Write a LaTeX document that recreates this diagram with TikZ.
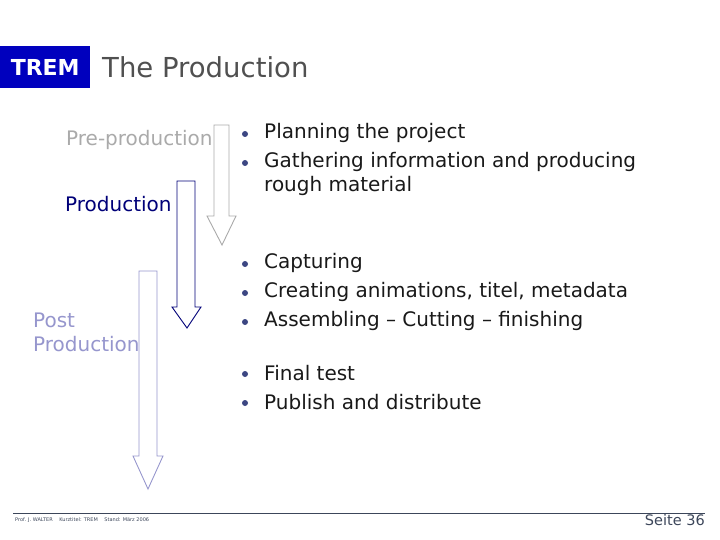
\documentclass[tikz,border=0pt]{standalone}
\usepackage{fontspec}
\setmainfont{DejaVu Sans}
\definecolor{tremblue}{RGB}{0,0,190}
\definecolor{titlegray}{RGB}{80,80,80}
\definecolor{pregray}{RGB}{170,170,170}
\definecolor{prodblue}{RGB}{0,0,120}
\definecolor{postlav}{RGB}{150,150,205}
\definecolor{bulletc}{RGB}{60,70,130}
\definecolor{textc}{RGB}{25,25,25}
\definecolor{footline}{RGB}{60,70,90}
\tikzset{
  lbl/.style={inner sep=0pt, anchor=west, font=\fontsize{20}{24}\selectfont},
  itm/.style={inner sep=0pt, anchor=west, text=textc, font=\fontsize{20}{24}\selectfont},
  dot/.style={circle, fill=bulletc, inner sep=0pt, minimum size=6pt},
  bigarrow/.style={line width=0.9pt, fill=white, line join=miter}
}
\begin{document}
\begin{tikzpicture}[x=1pt,y=-1pt]
\useasboundingbox (0,0) rectangle (720,540);
% header
\node[fill=tremblue, text=white, font=\bfseries\fontsize{22}{26}\selectfont, minimum width=90pt, minimum height=42pt, inner sep=0pt, anchor=north west] (trem) at (0,46) {TREM};
\node[anchor=base west, inner sep=0pt, text=titlegray, font=\fontsize{27.5}{32}\selectfont] (title) at (102,78) {The Production};
% arrows
\draw[bigarrow, draw=pregray] (214,125) -- (229,125) -- (229,216) -- (236,216) -- (222,245) -- (207,216) -- (214,216) -- cycle;
\draw[bigarrow, draw=prodblue] (177,181) -- (195,181) -- (195,307) -- (201,307) -- (187,328) -- (172,307) -- (177,307) -- cycle;
\draw[bigarrow, draw=postlav] (139,271) -- (157,271) -- (157,456) -- (163,456) -- (148,489) -- (133,456) -- (139,456) -- cycle;
% stage labels
\node[lbl, text=pregray] (pre) at (66,140) {Pre-production};
\node[lbl, text=prodblue] (prod) at (65,204) {Production};
\node[lbl, text=postlav, align=left, font=\fontsize{20}{24}\selectfont] (post) at (33,332) {Post\\Production};
% bullets
\foreach \y/\t [count=\i] in {133/Planning the project, 162/Gathering information and producing, 263/Capturing, 292/{Creating animations, titel, metadata}, 321/Assembling – Cutting – finishing, 373/Final test, 402/Publish and distribute}{
  \node[dot] (d\i) at (245,\y+1) {};
  \node[itm] (t\i) at (264,\y) {\t};
}
\node[itm] (t2b) at (264,186) {rough material};
% footer
\coordinate (fl) at (13,513);
\coordinate (fr) at (705,513);
\draw[footline, line width=0.8pt] (fl) -- (fr);
\node[anchor=west, inner sep=0pt, text=footline, font=\fontsize{5}{6}\selectfont] (foot) at (15,520) {Prof. J. WALTER \quad Kurztitel: TREM \quad Stand: März 2006};
\node[anchor=east, inner sep=0pt, text=footline, font=\fontsize{14.5}{17}\selectfont] (seite) at (705,520) {Seite 36};
\end{tikzpicture}
\end{document}
